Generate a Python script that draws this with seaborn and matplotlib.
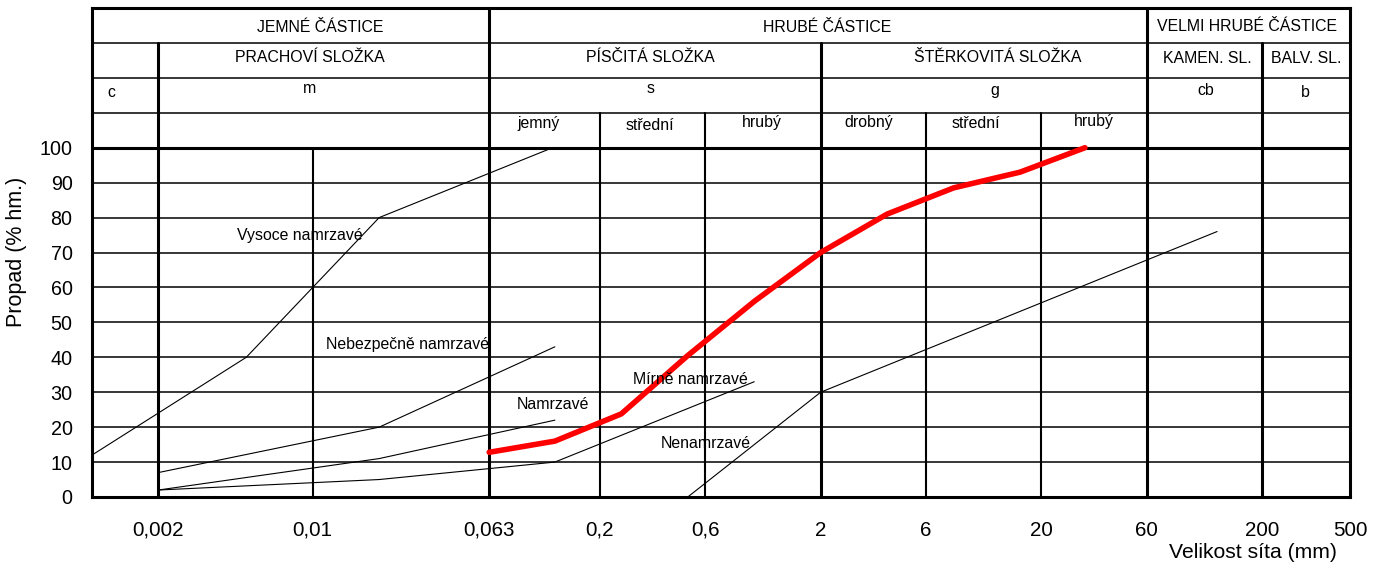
import numpy as np
import pandas as pd
import matplotlib
matplotlib.use("Agg")
import matplotlib.pyplot as plt
import matplotlib.transforms as mtransforms
import seaborn as sns

# sieve sizes (mm) shown on the x axis
tick_sizes = [0.002, 0.01, 0.063, 0.2, 0.6, 2, 6, 20, 60, 200, 500]
tick_labels = ['0,002', '0,01', '0,063', '0,2', '0,6', '2', '6', '20', '60', '200', '500']
pass_ticks = [0, 10, 20, 30, 40, 50, 60, 70, 80, 90, 100]

# frost susceptibility limit curves
vysoce_x = [0.001, 0.005, 0.02, 0.122]
vysoce_y = [12, 40, 80, 100]
nebezp_x = [0.002, 0.02, 0.125]
nebezp_y = [7, 20, 43]
namrz_x = [0.002, 0.02, 0.125]
namrz_y = [2, 11, 22]
mirne_x = [0.002, 0.02, 0.125, 1.0]
mirne_y = [2, 5, 10, 33]
nenamrz_x = [0.5, 2, 125]
nenamrz_y = [0, 30, 76]

# grading curve of the tested soil
sample_x = [0.063, 0.125, 0.25, 0.5, 1, 2, 4, 8, 16, 31.5]
sample_y = [12.8, 16, 23.8, 40.5, 56, 70, 81, 88.5, 93, 100]

curves = {'vysoce': (vysoce_x, vysoce_y), 'nebezp': (nebezp_x, nebezp_y),
          'namrz': (namrz_x, namrz_y), 'mirne': (mirne_x, mirne_y),
          'nenamrz': (nenamrz_x, nenamrz_y)}
df_lim = pd.concat([pd.DataFrame({'size': x, 'pass': y, 'curve': k}) for k, (x, y) in curves.items()],
                   ignore_index=True)
df_sample = pd.DataFrame({'size': sample_x, 'pass': sample_y})

sns.set_style("white")
plt.rcParams['font.family'] = ['Liberation Sans', 'DejaVu Sans']
plt.rcParams['text.color'] = 'black'
plt.rcParams['xtick.color'] = 'black'
plt.rcParams['ytick.color'] = 'black'
plt.rcParams['axes.labelcolor'] = 'black'

fig = plt.figure(figsize=(13.83, 5.68), dpi=100)
ax = fig.add_axes([92 / 1383, 71 / 568, 1258 / 1383, 489 / 568])
ax.set_xscale('log')
ax.set_xlim(0.001, 500)
ax.set_ylim(0, 140)

TOP = 140.0
THICK, MED, THIN = 2.2, 1.5, 1.1

# horizontal grid: plot area and table rows
for y in range(10, 100, 10):
    ax.axhline(y, color='black', lw=THIN, zorder=1)
ax.axhline(100, color='black', lw=THICK, zorder=1)
for y in [110, 120, 130]:
    ax.axhline(y, color='black', lw=THIN, zorder=1)

# vertical lines: (size, top of line, width)
vlines = [(0.002, 130, THICK), (0.01, 100, MED), (0.063, 140, THICK), (0.2, 110, MED),
          (0.6, 110, MED), (2, 130, THICK), (6, 110, MED), (20, 110, MED),
          (60, 140, THICK), (200, 130, THICK)]
for x, top, w in vlines:
    ax.axvline(x, ymin=0, ymax=top / TOP, color='black', lw=w, zorder=1)

sns.lineplot(data=df_lim, x='size', y='pass', units='curve', estimator=None, sort=False,
             color='black', lw=0.8, ax=ax, zorder=3)
sns.lineplot(data=df_sample, x='size', y='pass', estimator=None, sort=False,
             color='#ff0000', lw=4, ax=ax, zorder=4)

for s in ax.spines.values():
    s.set_visible(True)
    s.set_linewidth(THICK)
    s.set_color('black')

ax.xaxis.set_minor_locator(matplotlib.ticker.NullLocator())
ax.set_xticks(tick_sizes)
ax.set_xticklabels(tick_labels)
ax.set_yticks(pass_ticks)
ax.tick_params(axis='x', length=0, pad=17, labelsize=14.8, colors='black')
ax.tick_params(axis='y', length=0, pad=14, labelsize=14.2, colors='black')
ax.set_xlabel('')
ax.set_ylabel('')

# text placement: x as fraction of axes width, y in data units
tr = mtransforms.blended_transform_factory(ax.transAxes, ax.transData)
def px(p):
    return (p - 92) / 1258

table = [
    ('JEMNÉ ČÁSTICE', 320, 133.0), ('HRUBÉ ČÁSTICE', 827, 133.2), ('VELMI HRUBÉ ČÁSTICE', 1247, 133.4),
    ('PRACHOVÍ SLOŽKA', 310, 124.6), ('PÍSČITÁ SLOŽKA', 650, 124.6), ('ŠTĚRKOVITÁ SLOŽKA', 998, 124.6),
    ('KAMEN. SL.', 1207, 124.2), ('BALV. SL.', 1306, 124.2),
    ('c', 111, 114.6), ('m', 310, 115.8), ('s', 651, 115.8), ('g', 995, 115.0),
    ('cb', 1206, 115.2), ('b', 1305, 114.6),
    ('jemný', 539, 105.7), ('střední', 650, 105.2), ('hrubý', 762, 106.0),
    ('drobný', 869, 106.0), ('střední', 976, 105.6), ('hrubý', 1094, 106.2),
    ('Vysoce namrzavé', 300, 73.6), ('Nebezpečně namrzavé', 408, 42.4), ('Namrzavé', 553, 25.2),
    ('Mírně namrzavé', 690, 32.4), ('Nenamrzavé', 706, 14.0),
]
for txt, p, y in table:
    ax.text(px(p), y, txt, transform=tr, ha='center', va='baseline', fontsize=11.4,
            color='black', zorder=5)

fig.text(17 / 1383, 1 - 252 / 568, 'Propad (% hm.)', rotation=90, ha='center', va='center',
         fontsize=15.5, color='black')
fig.text(1337 / 1383, 1 - 553 / 568, 'Velikost síta (mm)', ha='right', va='center',
         fontsize=15.2, color='black')

fig.savefig('out.png', dpi=100)
